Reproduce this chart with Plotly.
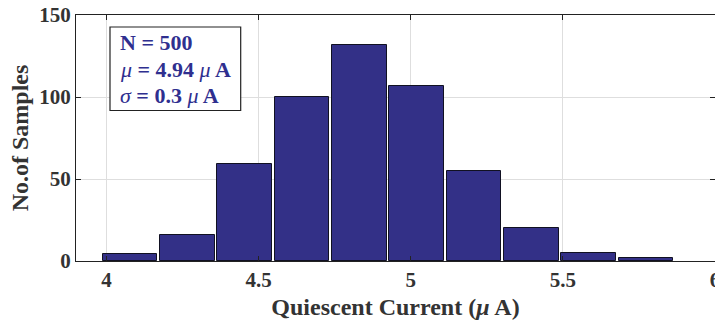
import plotly.graph_objects as go

# Histogram data
bin_start = 4.0776        # centre of first bin (µA)
bin_width = 0.1884        # bin pitch (µA)
counts = [4, 16, 59, 100, 132, 107, 55, 20, 5, 2]
centers = [round(bin_start + i * bin_width, 4) for i in range(len(counts))]

x_ticks = [4, 4.5, 5, 5.5, 6]
x_tick_text = ["4", "4.5", "5", "5.5", "6"]
y_ticks = [0, 50, 100, 150]

FONT = "Liberation Serif"
BAR = "#333087"
TXT = "#2f2f8f"

fig = go.Figure()
fig.add_trace(go.Bar(
    x=centers, y=counts, width=bin_width * 0.95,
    marker=dict(color=BAR, line=dict(color="#111122", width=1)),
    showlegend=False, hoverinfo="skip",
))

fig.update_layout(
    width=715, height=325,
    margin=dict(l=76, r=0, t=15, b=63.5),
    paper_bgcolor="white", plot_bgcolor="white",
    font=dict(family=FONT, size=21, color="#333333"),
    bargap=0,
    xaxis=dict(
        range=[3.9, 6.0], tickvals=x_ticks, ticktext=x_tick_text,
        automargin=False, ticklabeloverflow="allow",
        showgrid=True, gridcolor="#dedede", gridwidth=1,
        showline=True, linecolor="#222222", linewidth=1, mirror="ticks",
        ticks="inside", ticklen=5, tickcolor="#222222",
        tickfont=dict(family=FONT, size=21, color="#333333", weight="bold"),
        title=dict(text="<b>Quiescent Current (<i>μ</i>\u2009A)</b>", standoff=6,
                   font=dict(family=FONT, size=24, color="#333333")),
        zeroline=False,
    ),
    yaxis=dict(
        range=[0, 150], tickvals=y_ticks,
        automargin=False,
        showgrid=True, gridcolor="#dedede", gridwidth=1,
        showline=True, linecolor="#222222", linewidth=1, mirror="ticks",
        ticks="inside", ticklen=5, tickcolor="#222222",
        tickfont=dict(family=FONT, size=21, color="#333333", weight="bold"),
        title=dict(text="<b>No.of Samples</b>", standoff=3,
                   font=dict(family=FONT, size=24, color="#333333")),
        zeroline=False,
    ),
)

fig.add_shape(type="rect", xref="paper", yref="paper",
              x0=(110 - 76) / 639, x1=(240.7 - 76) / 639,
              y0=(261.5 - 110.7) / 246.5, y1=(261.5 - 27) / 246.5,
              line=dict(color="#222222", width=1.2), fillcolor="white", layer="above")

lines = ["<b>N = 500</b>",
         "<i>μ</i><b> = 4.94 </b><i>μ</i>\u2009<b>A</b>",
         "<i>σ</i><b> = 0.3 </b><i>μ</i>\u2009<b>A</b>"]
ys = [43, 70, 96]
for t, yy in zip(lines, ys):
    fig.add_annotation(xref="paper", yref="paper",
                       x=(118 - 76) / 639, y=(261.5 - yy) / 246.5,
                       xanchor="left", yanchor="middle", showarrow=False,
                       text=t, font=dict(family=FONT, size=22, color=TXT))

fig.write_html("out.html", config={"displayModeBar": False},
               post_script="document.body.style.margin='0';")
